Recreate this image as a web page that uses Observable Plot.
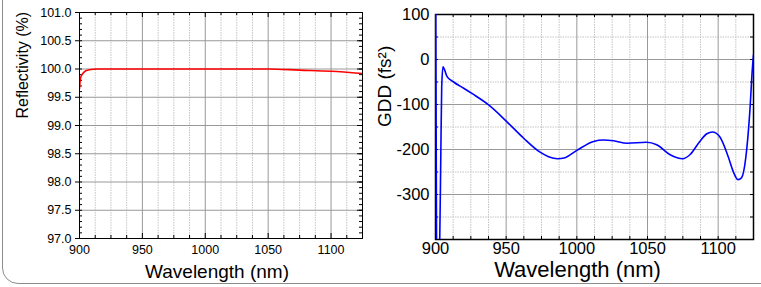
<!DOCTYPE html>
<html><head><meta charset="utf-8">
<script src="https://cdn.jsdelivr.net/npm/d3@7"></script>
<script src="https://cdn.jsdelivr.net/npm/@observablehq/plot@0.6"></script>
<style>
body{margin:0;background:#fff;font-family:"Liberation Sans",Arial,sans-serif;}
#wrap{position:relative;width:761px;height:287px;overflow:hidden;background:#fff;}
#box{position:absolute;left:2px;top:-30px;width:775px;height:314px;border:1.5px solid #8c8c8c;border-radius:16px;box-sizing:border-box;}
#left{position:absolute;left:0;top:0;}
#right{position:absolute;left:370px;top:0;}
</style></head>
<body>
<div id="wrap"><div id="box"></div><div id="left"></div><div id="right"></div></div>
<script>
// ---- data ----
const wlMajor = [900, 950, 1000, 1050, 1100];
const wlMinor = [912.5, 925, 937.5, 962.5, 975, 987.5, 1012.5, 1025, 1037.5, 1062.5, 1075, 1087.5, 1112.5];
const reflTicks = [97.0, 97.5, 98.0, 98.5, 99.0, 99.5, 100.0, 100.5, 101.0];
const reflMinor = d3.range(97, 101.0001, 0.1);
const gddTicks = [100, 0, -100, -200, -300];
const gddMinorGrid = [50, -50, -150, -250, -350];

const reflWl  = [900, 900.8, 902, 903.4, 905, 908.7, 914, 950, 1000, 1050, 1075, 1100, 1125];
const reflVal = [99.65, 99.84, 99.90, 99.94, 99.97, 99.99, 100.0, 100.0, 100.0, 100.0, 99.98, 99.96, 99.92];

const gddWl  = [900, 900.8, 902, 903, 903.8, 904.4, 905.3, 906.3, 908.2, 912.8, 920, 926, 937.6, 950.4, 962.4, 974, 980, 986.5, 991, 1000, 1011.8, 1019, 1026, 1035.5, 1049.4, 1056.5, 1066, 1075, 1080, 1087, 1092, 1096, 1101, 1107, 1110.6, 1114, 1116.5, 1119.5, 1122.4, 1124.2, 1125];
const gddVal = [250, -450, -470, -400, -200, -60, -16, -22, -38, -50, -64, -76, -101, -138, -175, -206, -216, -220.5, -219, -202, -182, -179, -180.7, -186, -184, -189.5, -211.7, -220.5, -211.7, -182, -165, -161, -171, -215, -248.5, -267, -263, -219, -115.8, -20, 10];

const refl = reflWl.map((w, i) => ({w, v: reflVal[i]}));
const gdd = gddWl.map((w, i) => ({w, v: gddVal[i]}));
const wlAll = wlMajor.concat(wlMinor);
const font = '"Liberation Sans", Arial, sans-serif';

// ---- left chart ----
{
  const W = 370, H = 287, mL = 79, mR = 8, mT = 12, mB = 49;
  const iw = W - mL - mR, ih = H - mT - mB;
  const p = Plot.plot({
    width: W, height: H, marginLeft: mL, marginRight: mR, marginTop: mT, marginBottom: mB,
    style: {fontFamily: font, color: "#000", background: "transparent", overflow: "visible"},
    x: {domain: [900, 1125]},
    y: {domain: [97, 101]},
    marks: [
      Plot.gridX(wlMinor, {stroke: "#c4c4c4", strokeOpacity: 1, strokeDasharray: "1.5,1"}),
      Plot.gridX(wlMajor, {stroke: "#999", strokeOpacity: 1}),
      Plot.gridY(reflTicks, {stroke: "#999", strokeOpacity: 1}),
      Plot.tickX(wlMinor, {x: d => d, stroke: "#000", insetTop: ih - 3}),
      Plot.tickX(wlMinor, {x: d => d, stroke: "#000", insetBottom: ih - 3}),
      Plot.tickX(wlMajor, {x: d => d, stroke: "#000", insetTop: ih - 5}),
      Plot.tickX(wlMajor, {x: d => d, stroke: "#000", insetBottom: ih - 5}),
      Plot.tickY(reflMinor, {y: d => d, stroke: "#000", insetRight: iw - 3}),
      Plot.tickY(reflMinor, {y: d => d, stroke: "#000", insetLeft: iw - 3}),
      Plot.tickY(reflTicks, {y: d => d, stroke: "#000", insetLeft: iw - 5}),
      Plot.line(refl, {x: "w", y: "v", stroke: "#ff0000", strokeWidth: 1.6, curve: "monotone-x", clip: true}),
      Plot.frame({stroke: "#000", strokeWidth: 1}),
      Plot.axisY(reflTicks, {tickFormat: d => d.toFixed(1), tickSize: 4, tickPadding: 4, fontSize: 12.5, label: null}),
      Plot.axisX(wlMajor, {tickFormat: d => String(d), tickSize: 0, tickPadding: 7, fontSize: 12.5, label: null}),
      Plot.text(["Wavelength (nm)"], {text: d => d, frameAnchor: "bottom", dy: 39, dx: -4, fontSize: 19, fill: "#000"}),
      Plot.text(["Reflectivity (%)"], {text: d => d, frameAnchor: "left", rotate: -90, dx: -57, dy: -7, fontSize: 16, fill: "#000"})
    ]
  });
  document.getElementById("left").appendChild(p);
}

// ---- right chart ----
{
  const W = 391, H = 287, mL = 65, mR = 8, mT = 14, mB = 48;
  const iw = W - mL - mR, ih = H - mT - mB;
  const p = Plot.plot({
    width: W, height: H, marginLeft: mL, marginRight: mR, marginTop: mT, marginBottom: mB,
    style: {fontFamily: font, color: "#000", background: "transparent", overflow: "visible"},
    x: {domain: [900, 1125]},
    y: {domain: [-400, 100]},
    marks: [
      Plot.gridX(wlMinor, {stroke: "#c4c4c4", strokeOpacity: 1, strokeDasharray: "1.5,1"}),
      Plot.gridY(gddMinorGrid, {stroke: "#c4c4c4", strokeOpacity: 1, strokeDasharray: "1.5,1"}),
      Plot.gridX(wlMajor, {stroke: "#999", strokeOpacity: 1}),
      Plot.gridY(gddTicks, {stroke: "#999", strokeOpacity: 1}),
      Plot.tickX(wlAll, {x: d => d, stroke: "#000", insetTop: ih - 3}),
      Plot.tickX(wlAll, {x: d => d, stroke: "#000", insetBottom: ih - 3}),
      Plot.tickY(gddTicks.concat(gddMinorGrid), {y: d => d, stroke: "#000", insetLeft: iw - 3}),
      Plot.tickY(gddTicks.concat(gddMinorGrid), {y: d => d, stroke: "#000", insetRight: iw - 3}),
      Plot.frame({stroke: "#000", strokeWidth: 1.5}),
      Plot.line(gdd, {x: "w", y: "v", stroke: "#0000ff", strokeWidth: 1.6, curve: "monotone-x", clip: true}),
      Plot.axisY(gddTicks, {tickFormat: d => String(d), tickSize: 0, tickPadding: 6, fontSize: 16.5, label: null}),
      Plot.axisX(wlMajor, {tickFormat: d => String(d), tickSize: 0, tickPadding: 3, fontSize: 16.5, label: null}),
      Plot.text(["Wavelength (nm)"], {text: d => d, frameAnchor: "bottom", dy: 37, dx: -17, fontSize: 22, fill: "#000"}),
      Plot.text(["GDD (fs²)"], {text: d => d, frameAnchor: "left", rotate: -90, dx: -51, dy: 0, fontSize: 19, fill: "#000"})
    ]
  });
  document.getElementById("right").appendChild(p);
}
</script>
</body></html>
